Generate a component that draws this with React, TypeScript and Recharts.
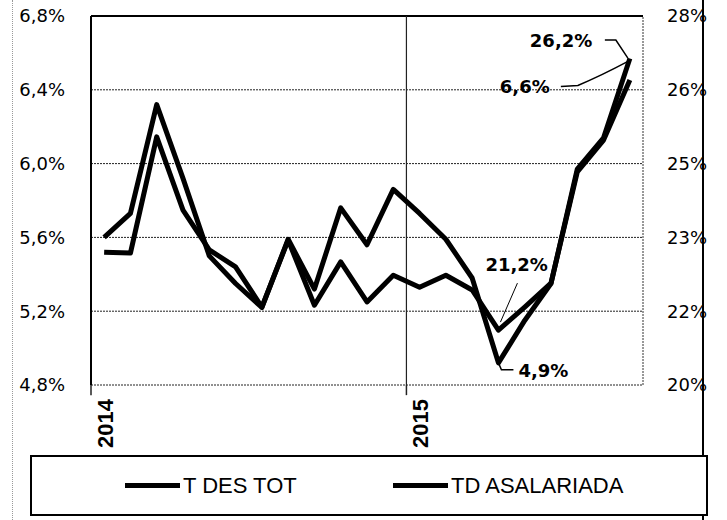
import React from 'react';
import { LineChart, Line, XAxis, YAxis, CartesianGrid, ReferenceLine, ReferenceDot } from 'recharts';

const months = [
  'ene-14', 'feb-14', 'mar-14', 'abr-14', 'may-14', 'jun-14', 'jul-14', 'ago-14', 'sep-14', 'oct-14', 'nov-14', 'dic-14',
  'ene-15', 'feb-15', 'mar-15', 'abr-15', 'may-15', 'jun-15', 'jul-15', 'ago-15', 'sep-15',
];
const tDesTot = [5.60, 5.73, 6.32, 5.92, 5.50, 5.35, 5.22, 5.59, 5.32, 5.76, 5.56, 5.86, 5.73, 5.59, 5.38, 4.92, 5.15, 5.35, 5.97, 6.14, 6.57];
const tdAsalariada = [22.88, 22.86, 25.38, 23.79, 22.93, 22.56, 21.69, 23.14, 21.73, 22.67, 21.80, 22.38, 22.12, 22.38, 22.06, 21.19, 21.69, 22.21, 24.62, 25.31, 26.61];
const yearTickIdx = [0, 12];
const yearLabels = ['2014', '2015'];
const leftTicks = [4.8, 5.2, 5.6, 6.0, 6.4, 6.8];
const rightTicks = [20, 21.6, 23.2, 24.8, 26.4, 28];
const seriesNames = ['T DES TOT', 'TD ASALARIADA'];
const annotations = { totEnd: '6,6%', asalEnd: '26,2%', totMin: '4,9%', asalMin: '21,2%' };

const data = months.map((m, i) => ({ idx: i, month: m, tot: tDesTot[i], asal: tdAsalariada[i] }));
const lastIdx = months.length - 1;
const minIdx = 15;

const axisFont = 'DejaVu Sans, Verdana, sans-serif';
const fmtLeft = (v: number) => v.toFixed(1).replace('.', ',') + '%';
const fmtRight = (v: number) => Math.round(v) + '%';

const YearTick = (props: any) => {
  const { x, y, payload } = props;
  const k = yearTickIdx.indexOf(payload.value);
  return (
    <text
      transform={`translate(${x + 1},${y + 14}) rotate(-90)`}
      textAnchor="end"
      dy="0.36em"
      fontFamily="Liberation Sans, Arial, sans-serif"
      fontWeight="bold"
      fontSize={22}
      fill="#000"
    >
      {k >= 0 ? yearLabels[k] : ''}
    </text>
  );
};

const annoStyle = { fontFamily: axisFont, fontWeight: 'bold' as const, fontSize: 18, fill: '#000' };

const TotEndShape = (p: any) => {
  const { cx, cy } = p;
  return (
    <g>
      <path d={`M${cx - 69},${cy + 28} L${cx - 52},${cy + 27} Q${cx - 30},${cy + 18} ${cx},${cy + 2}`} stroke="#000" strokeWidth={1.5} fill="none" />
      <text x={cx - 130} y={cy + 28} dy="0.36em" style={annoStyle}>{annotations.totEnd}</text>
    </g>
  );
};
const AsalEndShape = (p: any) => {
  const { cx, cy } = p;
  return (
    <g>
      <path d={`M${cx - 25},${cy - 40} L${cx - 14},${cy - 40} L${cx - 2},${cy - 22}`} stroke="#000" strokeWidth={1.5} fill="none" />
      <text x={cx - 100} y={cy - 40} dy="0.36em" style={annoStyle}>{annotations.asalEnd}</text>
    </g>
  );
};
const TotMinShape = (p: any) => {
  const { cx, cy } = p;
  return (
    <g>
      <path d={`M${cx},${cy} L${cx + 3},${cy + 7} L${cx + 15},${cy + 7}`} stroke="#000" strokeWidth={1.5} fill="none" />
      <text x={cx + 20} y={cy + 8} dy="0.36em" style={annoStyle}>{annotations.totMin}</text>
    </g>
  );
};
const AsalMinShape = (p: any) => {
  const { cx, cy } = p;
  return (
    <g>
      <path d={`M${cx + 19},${cy - 47} L${cx + 2},${cy - 8}`} stroke="#000" strokeWidth={1} fill="none" />
      <text x={cx - 13} y={cy - 66} dy="0.36em" style={annoStyle}>{annotations.asalMin}</text>
    </g>
  );
};

export default function App() {
  return (
    <div style={{ position: 'absolute', left: 0, top: 0, width: 727, height: 520, background: '#fff' }}>
      <LineChart width={727} height={520} data={data} margin={{ top: 16, right: 0, left: 0, bottom: 75 }}>
        <CartesianGrid yAxisId="left" vertical={false} stroke="#222" strokeDasharray="2 1" />
        <XAxis
          dataKey="idx"
          type="number"
          domain={[-0.5, 20.5]}
          ticks={yearTickIdx}
          tick={<YearTick />}
          tickSize={0}
          tickMargin={0}
          axisLine={false}
          height={60}
          interval={0}
        />
        <YAxis
          yAxisId="left"
          orientation="left"
          domain={[4.8, 6.8]}
          ticks={leftTicks}
          tickFormatter={fmtLeft}
          width={91}
          tickSize={0}
          tickMargin={26}
          axisLine={{ stroke: '#000', strokeWidth: 2 }}
          tickLine={false}
          tick={{ fill: '#000', fontSize: 18, fontFamily: axisFont }}
          interval={0}
        />
        <YAxis
          yAxisId="right"
          orientation="right"
          domain={[20, 28]}
          ticks={rightTicks}
          tickFormatter={fmtRight}
          width={84}
          tickSize={0}
          tickMargin={24}
          axisLine={false}
          tickLine={false}
          tick={{ fill: '#000', fontSize: 18, fontFamily: axisFont, textAnchor: 'start' }}
          interval={0}
        />
        <ReferenceLine yAxisId="left" y={6.8} stroke="#000" strokeWidth={2} />
        <ReferenceLine yAxisId="left" x={20.5} stroke="#333" strokeDasharray="2 1" />
        <ReferenceLine yAxisId="left" x={11.5} stroke="#222" strokeWidth={1.2} />
        <ReferenceLine yAxisId="left" ifOverflow="visible" segment={[{ x: 11.5, y: 4.8 }, { x: 11.5, y: 4.745 }]} stroke="#222" strokeWidth={1.5} />
        <ReferenceLine yAxisId="left" ifOverflow="visible" segment={[{ x: -0.5, y: 4.8 }, { x: -0.5, y: 4.745 }]} stroke="#222" strokeWidth={1.5} />
        <Line yAxisId="left" dataKey="tot" name={seriesNames[0]} stroke="#000" strokeWidth={5} strokeLinejoin="round" dot={false} isAnimationActive={false} />
        <Line yAxisId="right" dataKey="asal" name={seriesNames[1]} stroke="#000" strokeWidth={5} strokeLinejoin="round" dot={false} isAnimationActive={false} />
        <ReferenceDot yAxisId="left" x={lastIdx} y={tDesTot[lastIdx]} r={0} shape={<TotEndShape />} />
        <ReferenceDot yAxisId="right" x={lastIdx} y={tdAsalariada[lastIdx]} r={0} shape={<AsalEndShape />} />
        <ReferenceDot yAxisId="left" x={minIdx} y={tDesTot[minIdx]} r={0} shape={<TotMinShape />} />
        <ReferenceDot yAxisId="right" x={minIdx} y={tdAsalariada[minIdx]} r={0} shape={<AsalMinShape />} />
      </LineChart>
      <div style={{ position: 'absolute', left: 12, top: 0, width: 0, height: 520, borderLeft: '1px dotted #999' }} />
      <div style={{ position: 'absolute', left: 702, top: 0, width: 0, height: 520, borderLeft: '2px solid #000' }} />
      <div
        style={{
          position: 'absolute', left: 30, top: 455, width: 674, height: 57, border: '2px solid #000', background: '#fff',
          fontFamily: 'Liberation Sans Narrow, Arial Narrow, Liberation Sans, sans-serif', fontSize: 22, color: '#000',
        }}
      >
        {seriesNames.map((n, k) => (
          <div key={n} style={{ position: 'absolute', left: k === 0 ? 93 : 361, top: 0, height: 57, display: 'flex', alignItems: 'center' }}>
            <span style={{ display: 'inline-block', width: 55, height: 5, background: '#000', marginRight: 3 }} />
            <span>{n}</span>
          </div>
        ))}
      </div>
    </div>
  );
}
